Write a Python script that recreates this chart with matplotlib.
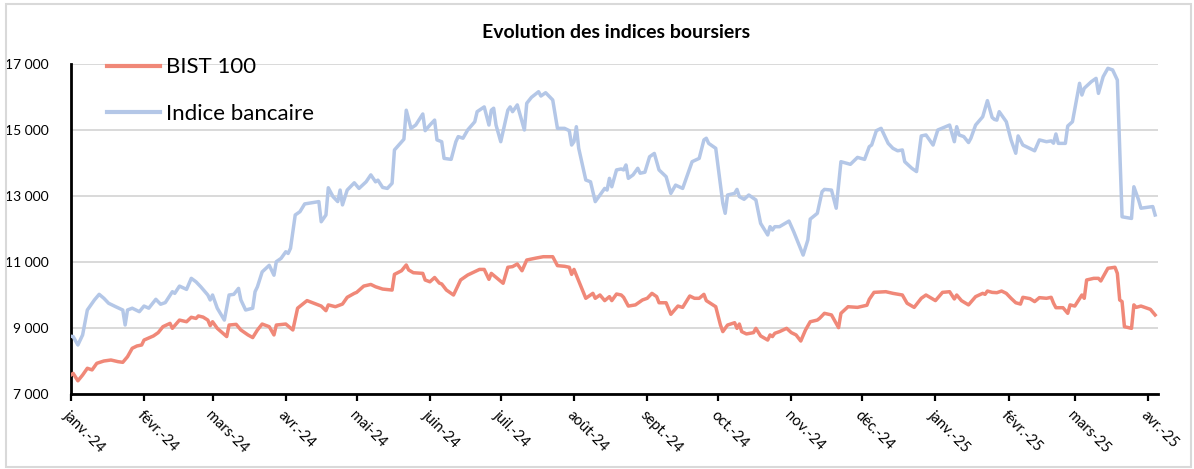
import matplotlib
matplotlib.use("Agg")
import matplotlib.pyplot as plt
import pandas as pd
from matplotlib.patches import Rectangle

plt.rcParams['font.family'] = ['Lato', 'DejaVu Sans']

title = "Evolution des indices boursiers"
series_names = ["BIST 100", "Indice bancaire"]

bist_dates = [
    "2024-01-01", "2024-01-02", "2024-01-04", "2024-01-06", "2024-01-08", "2024-01-10", "2024-01-12",
    "2024-01-15", "2024-01-18", "2024-01-21", "2024-01-23", "2024-01-25", "2024-01-27", "2024-01-29",
    "2024-01-31", "2024-02-01", "2024-02-05", "2024-02-07", "2024-02-09", "2024-02-12", "2024-02-13",
    "2024-02-16", "2024-02-19", "2024-02-21", "2024-02-23", "2024-02-24", "2024-02-26", "2024-02-28",
    "2024-02-29", "2024-03-01", "2024-03-03", "2024-03-07", "2024-03-08", "2024-03-11", "2024-03-13",
    "2024-03-16", "2024-03-18", "2024-03-20", "2024-03-22", "2024-03-25", "2024-03-27", "2024-03-28",
    "2024-04-01", "2024-04-04", "2024-04-06", "2024-04-10", "2024-04-16", "2024-04-18", "2024-04-19",
    "2024-04-22", "2024-04-25", "2024-04-27", "2024-04-30", "2024-05-01", "2024-05-04", "2024-05-07",
    "2024-05-09", "2024-05-12", "2024-05-16", "2024-05-17", "2024-05-20", "2024-05-22", "2024-05-23",
    "2024-05-25", "2024-05-29", "2024-05-30", "2024-06-01", "2024-06-03", "2024-06-05", "2024-06-06",
    "2024-06-08", "2024-06-11", "2024-06-12", "2024-06-14", "2024-06-17", "2024-06-22", "2024-06-24",
    "2024-06-26", "2024-06-27", "2024-06-29", "2024-07-02", "2024-07-04", "2024-07-06", "2024-07-08",
    "2024-07-10", "2024-07-12", "2024-07-16", "2024-07-19", "2024-07-23", "2024-07-25", "2024-07-28",
    "2024-07-30", "2024-07-31", "2024-08-01", "2024-08-04", "2024-08-06", "2024-08-09", "2024-08-10",
    "2024-08-12", "2024-08-14", "2024-08-16", "2024-08-17", "2024-08-19", "2024-08-21", "2024-08-22",
    "2024-08-24", "2024-08-27", "2024-08-30", "2024-09-01", "2024-09-03", "2024-09-05", "2024-09-06",
    "2024-09-09", "2024-09-11", "2024-09-14", "2024-09-16", "2024-09-19", "2024-09-21", "2024-09-23",
    "2024-09-25", "2024-09-26", "2024-09-30", "2024-10-02", "2024-10-03", "2024-10-05", "2024-10-08",
    "2024-10-09", "2024-10-10", "2024-10-11", "2024-10-13", "2024-10-16", "2024-10-17", "2024-10-19",
    "2024-10-22", "2024-10-23", "2024-10-24", "2024-10-25", "2024-10-27", "2024-10-30", "2024-11-01",
    "2024-11-03", "2024-11-05", "2024-11-07", "2024-11-09", "2024-11-12", "2024-11-13", "2024-11-15",
    "2024-11-18", "2024-11-21", "2024-11-22", "2024-11-25", "2024-11-29", "2024-12-03", "2024-12-04",
    "2024-12-06", "2024-12-11", "2024-12-14", "2024-12-18", "2024-12-20", "2024-12-23", "2024-12-26",
    "2024-12-28", "2025-01-01", "2025-01-04", "2025-01-07", "2025-01-09", "2025-01-10", "2025-01-12",
    "2025-01-15", "2025-01-18", "2025-01-21", "2025-01-22", "2025-01-23", "2025-01-25", "2025-01-27",
    "2025-01-29", "2025-01-31", "2025-02-02", "2025-02-04", "2025-02-06", "2025-02-07", "2025-02-10",
    "2025-02-12", "2025-02-14", "2025-02-17", "2025-02-19", "2025-02-20", "2025-02-21", "2025-02-24",
    "2025-02-26", "2025-02-27", "2025-03-01", "2025-03-04", "2025-03-05", "2025-03-06", "2025-03-09",
    "2025-03-11", "2025-03-12", "2025-03-15", "2025-03-18", "2025-03-19", "2025-03-20", "2025-03-21",
    "2025-03-22", "2025-03-25", "2025-03-26", "2025-03-27", "2025-03-29", "2025-04-02", "2025-04-04",
]
bist_values = [
    7575, 7625, 7400, 7575, 7780, 7730, 7930,
    8000, 8030, 7980, 7960, 8130, 8385, 8455,
    8485, 8635, 8760, 8860, 9040, 9140, 8990,
    9240, 9190, 9325, 9290, 9365, 9330, 9240,
    9070, 9190, 8990, 8740, 9090, 9110, 8940,
    8790, 8710, 8940, 9120, 9040, 8790, 9090,
    9120, 8940, 9600, 9830, 9665, 9525, 9700,
    9645, 9725, 9930, 10050, 10080, 10270, 10320,
    10250, 10180, 10150, 10625, 10735, 10910, 10760,
    10675, 10655, 10455, 10400, 10530, 10360, 10335,
    10150, 10000, 10150, 10455, 10605, 10775, 10775,
    10475, 10655, 10535, 10355, 10840, 10860, 10940,
    10735, 11060, 11120, 11160, 11160, 10890, 10870,
    10840, 10625, 10775, 10250, 9900, 10050, 9900,
    10000, 9830, 9950, 9830, 10030, 10000, 9930,
    9665, 9700, 9850, 9900, 10050, 9950, 9765,
    9765, 9415, 9665, 9625, 9970, 9900, 9900,
    10020, 9830, 9645, 9090, 8890, 9090, 9160,
    8990, 9120, 8890, 8820, 8860, 8990, 8760,
    8635, 8790, 8740, 8840, 8890, 8990, 8860,
    8790, 8605, 8940, 9190, 9240, 9295, 9445,
    9395, 9010, 9445, 9645, 9625, 9690, 9870,
    10080, 10100, 10050, 10000, 9750, 9625, 9900,
    10000, 9830, 10080, 10100, 9880, 10000, 9830,
    9700, 9950, 10050, 10020, 10120, 10080, 10070,
    10120, 10050, 9900, 9765, 9725, 9930, 9890,
    9800, 9920, 9900, 9930, 9750, 9615, 9615,
    9445, 9700, 9665, 10000, 9900, 10455, 10505,
    10505, 10425, 10810, 10840, 10655, 9850, 9800,
    9040, 8990, 9700, 9625, 9665, 9565, 9395,
]

bank_dates = [
    "2024-01-01", "2024-01-02", "2024-01-04", "2024-01-06", "2024-01-08", "2024-01-11", "2024-01-13",
    "2024-01-15", "2024-01-17", "2024-01-20", "2024-01-23", "2024-01-24", "2024-01-25", "2024-01-27",
    "2024-01-30", "2024-02-01", "2024-02-03", "2024-02-06", "2024-02-08", "2024-02-10", "2024-02-13",
    "2024-02-14", "2024-02-16", "2024-02-19", "2024-02-21", "2024-02-23", "2024-02-25", "2024-02-28",
    "2024-02-29", "2024-03-01", "2024-03-03", "2024-03-06", "2024-03-08", "2024-03-10", "2024-03-12",
    "2024-03-13", "2024-03-15", "2024-03-18", "2024-03-19", "2024-03-20", "2024-03-22", "2024-03-25",
    "2024-03-27", "2024-03-28", "2024-03-30", "2024-04-01", "2024-04-02", "2024-04-03", "2024-04-05",
    "2024-04-07", "2024-04-09", "2024-04-15", "2024-04-16", "2024-04-18", "2024-04-19", "2024-04-21",
    "2024-04-23", "2024-04-24", "2024-04-25", "2024-04-27", "2024-04-30", "2024-05-02", "2024-05-05",
    "2024-05-07", "2024-05-09", "2024-05-10", "2024-05-12", "2024-05-14", "2024-05-16", "2024-05-17",
    "2024-05-21", "2024-05-22", "2024-05-24", "2024-05-26", "2024-05-29", "2024-05-30", "2024-06-01",
    "2024-06-03", "2024-06-04", "2024-06-06", "2024-06-07", "2024-06-10", "2024-06-12", "2024-06-13",
    "2024-06-15", "2024-06-17", "2024-06-20", "2024-06-21", "2024-06-24", "2024-06-26", "2024-06-27",
    "2024-06-28", "2024-06-29", "2024-07-01", "2024-07-04", "2024-07-05", "2024-07-06", "2024-07-08",
    "2024-07-11", "2024-07-12", "2024-07-14", "2024-07-17", "2024-07-18", "2024-07-20", "2024-07-23",
    "2024-07-25", "2024-07-28", "2024-07-30", "2024-07-31", "2024-08-01", "2024-08-02", "2024-08-03",
    "2024-08-06", "2024-08-08", "2024-08-10", "2024-08-12", "2024-08-14", "2024-08-15", "2024-08-16",
    "2024-08-17", "2024-08-19", "2024-08-21", "2024-08-22", "2024-08-23", "2024-08-24", "2024-08-26",
    "2024-08-28", "2024-08-29", "2024-08-31", "2024-09-02", "2024-09-04", "2024-09-06", "2024-09-09",
    "2024-09-11", "2024-09-13", "2024-09-16", "2024-09-18", "2024-09-20", "2024-09-23", "2024-09-25",
    "2024-09-26", "2024-09-27", "2024-09-30", "2024-10-03", "2024-10-04", "2024-10-05", "2024-10-08",
    "2024-10-09", "2024-10-10", "2024-10-12", "2024-10-14", "2024-10-17", "2024-10-19", "2024-10-22",
    "2024-10-23", "2024-10-24", "2024-10-25", "2024-10-27", "2024-10-31", "2024-11-02", "2024-11-06",
    "2024-11-08", "2024-11-09", "2024-11-12", "2024-11-14", "2024-11-15", "2024-11-18", "2024-11-20",
    "2024-11-22", "2024-11-26", "2024-11-29", "2024-12-02", "2024-12-04", "2024-12-05", "2024-12-07",
    "2024-12-09", "2024-12-12", "2024-12-14", "2024-12-16", "2024-12-18", "2024-12-19", "2024-12-22",
    "2024-12-24", "2024-12-26", "2024-12-28", "2024-12-31", "2025-01-02", "2025-01-07", "2025-01-09",
    "2025-01-10", "2025-01-11", "2025-01-13", "2025-01-15", "2025-01-16", "2025-01-18", "2025-01-21",
    "2025-01-23", "2025-01-25", "2025-01-26", "2025-01-27", "2025-01-28", "2025-01-31", "2025-02-02",
    "2025-02-04", "2025-02-05", "2025-02-07", "2025-02-09", "2025-02-12", "2025-02-14", "2025-02-17",
    "2025-02-19", "2025-02-20", "2025-02-21", "2025-02-22", "2025-02-25", "2025-02-26", "2025-02-28",
    "2025-03-03", "2025-03-04", "2025-03-05", "2025-03-08", "2025-03-10", "2025-03-11", "2025-03-13",
    "2025-03-15", "2025-03-17", "2025-03-19", "2025-03-21", "2025-03-25", "2025-03-26", "2025-03-28",
    "2025-03-29", "2025-04-03", "2025-04-04",
]
bank_values = [
    8750, 8740, 8485, 8790, 9545, 9850, 10020,
    9900, 9750, 9645, 9545, 9090, 9545, 9600,
    9495, 9665, 9600, 9870, 9720, 9770, 10100,
    10050, 10270, 10170, 10505, 10400, 10250, 10000,
    9850, 10000, 9600, 9240, 10000, 10020, 10200,
    9850, 9545, 9600, 10100, 10250, 10700, 10900,
    10600, 11010, 11110, 11310, 11260, 11415, 12425,
    12525, 12760, 12830, 12220, 12425, 13250, 12980,
    12830, 13180, 12730, 13180, 13400, 13230, 13430,
    13640, 13430, 13480, 13260, 13230, 13385, 14395,
    14720, 15600, 15050, 15150, 15485, 14980, 15150,
    15300, 14700, 14645, 14140, 14110, 14645, 14800,
    14750, 15000, 15250, 15555, 15700, 15150, 15600,
    15660, 15150, 14645, 15600, 15700, 15555, 15760,
    15000, 15810, 15990, 16160, 16030, 16130, 15910,
    15050, 15050, 14980, 14545, 14645, 15100, 14445,
    13485, 13430, 12830, 13030, 13230, 13180, 13535,
    13280, 13790, 13820, 13790, 13940, 13535, 13640,
    13840, 13690, 13720, 14190, 14290, 13790, 13585,
    13080, 13330, 13230, 13640, 14040, 14140, 14700,
    14750, 14595, 14445, 12780, 12475, 13030, 13080,
    13200, 12980, 12900, 13030, 12880, 12170, 11820,
    12070, 11970, 12070, 12070, 12240, 11920, 11210,
    11670, 12300, 12475, 13130, 13200, 13180, 12630,
    14040, 13960, 14170, 14110, 14495, 14545, 14980,
    15050, 14595, 14445, 14370, 14395, 14040, 13840,
    13740, 14820, 14850, 14545, 15000, 15150, 14645,
    15100, 14850, 14800, 14620, 14750, 15150, 15400,
    15890, 15380, 15320, 15300, 15555, 15250, 14700,
    14295, 14820, 14545, 14475, 14370, 14700, 14645,
    14670, 14600, 14880, 14595, 14595, 15120, 15250,
    16415, 16060, 16265, 16465, 16565, 16110, 16615,
    16870, 16820, 16515, 12370, 12320, 13280, 12880,
    12630, 12680, 12425,
]

month_ticks = pd.date_range("2024-01-01", "2025-04-01", freq="MS")
month_labels = ["janv.-24", "févr.-24", "mars-24", "avr.-24", "mai-24", "juin-24", "juil.-24",
                "août-24", "sept.-24", "oct.-24", "nov.-24", "déc.-24", "janv.-25", "févr.-25",
                "mars-25", "avr.-25"]
y_ticks = [7000, 9000, 11000, 13000, 15000, 17000]
y_labels = ["7 000", "9 000", "11 000", "13 000", "15 000", "17 000"]

red = "#F08878"
blue = "#B4C7E7"

W, H = 1194, 469
fig = plt.figure(figsize=(W / 100, H / 100), dpi=100)
fig.patches.append(Rectangle((6 / W, 2 / H), 1185 / W, 463 / H, transform=fig.transFigure,
                             fill=False, edgecolor="#d9d9d9", linewidth=1.5))

ax = fig.add_axes([70.8 / W, 1 - 394 / H, (1157.5 - 70.8) / W, 330 / H])

ax.plot(pd.to_datetime(bist_dates), bist_values, color=red, lw=2.5, label=series_names[0],
        solid_joinstyle="round", zorder=3)
ax.plot(pd.to_datetime(bank_dates), bank_values, color=blue, lw=2.5, label=series_names[1],
        solid_joinstyle="round", zorder=3)

ax.set_xlim(pd.Timestamp("2024-01-01"), pd.Timestamp("2025-04-05"))
ax.set_ylim(7000, 17000)
ax.set_yticks(y_ticks)
ax.set_yticklabels(y_labels, fontsize=10)
ax.set_xticks(month_ticks)
ax.set_xticklabels(month_labels, fontsize=10.5, rotation=-45, ha="left", va="top",
                   rotation_mode="anchor")
ax.tick_params(axis="y", length=0, pad=16)
ax.tick_params(axis="x", length=5, width=1.6, direction="out", pad=5)
ax.grid(axis="y", color="#d9d9d9", lw=1.4, zorder=0)
for s in ["top", "right"]:
    ax.spines[s].set_visible(False)
for s in ["left", "bottom"]:
    ax.spines[s].set_linewidth(2)
    ax.spines[s].set_color("black")

leg = ax.legend(loc="upper left", bbox_to_anchor=(0.033, 1.02), frameon=False, fontsize=16,
                handlelength=2.4, handletextpad=0.28, labelspacing=1.2, borderpad=0,
                borderaxespad=0)
for line in leg.get_lines():
    line.set_linewidth(3)

fig.text(616 / W, 1 - 33 / H, title, ha="center", va="center", fontsize=14, fontweight="bold")

fig.savefig("out.png", dpi=100)
